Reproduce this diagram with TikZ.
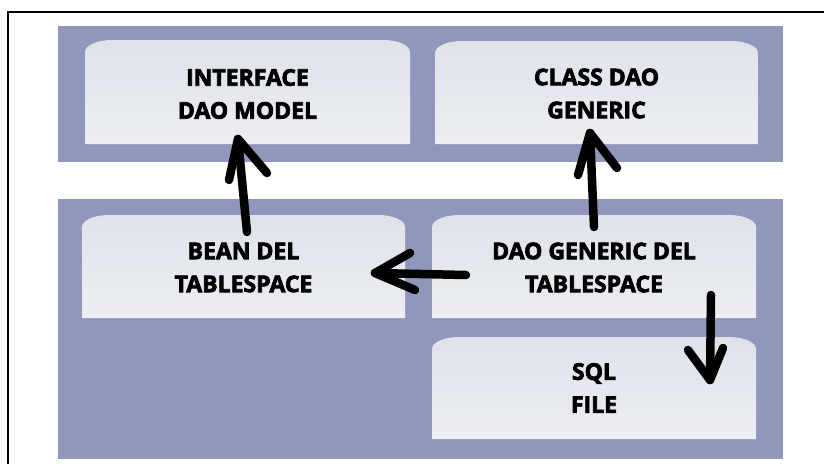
\documentclass[tikz,border=0pt]{standalone}
\usepackage{fontspec}
\setmainfont{Open Sans}[BoldFeatures={FakeBold=3.2}]
\usetikzlibrary{calc}
\definecolor{bandc}{RGB}{145,150,189}
\definecolor{tabtop}{RGB}{223,226,234}
\definecolor{tabmid}{RGB}{234,236,241}
\definecolor{tabbot}{RGB}{236,238,242}
\tikzset{
  band/.style={fill=bandc},
  tabfill/.style={top color=tabtop, middle color=tabmid, bottom color=tabbot},
  tablabel/.style={inner sep=0pt, align=center, font=\fontsize{23}{33}\selectfont\bfseries, text=black},
  stroke/.style={line width=8.5pt, line cap=round, line join=round, black},
  frame/.style={line width=2pt, black}
}
% #1 name, (#2,#3) top-left, (#4,#5) bottom-right, #6 text, #7 vertical text shift
\newcommand\tabbox[7]{%
  \path[tabfill] (#2,#5) -- (#2,{#3+12})
    arc[start angle=180, end angle=90, x radius=27pt, y radius=12pt]
    -- ({#4-27},#3)
    arc[start angle=90, end angle=0, x radius=27pt, y radius=12pt]
    -- (#4,#5) -- cycle;
  \node[tablabel, minimum width={(#4-#2)*1pt}, minimum height={(#5-#3)*1pt}]
    (#1) at ({(#2+#4)/2},{(#3+#5)/2+#7}) {#6};%
}
\begin{document}
\begin{tikzpicture}[x=1pt,y=-1pt]
  \useasboundingbox (0,0) rectangle (824,463);
  \fill[white] (0,0) rectangle (824,463);
  % frame (only top and left edges are inside the page)
  \draw[frame] (7.5,470) -- (7.5,11.5) -- (830,11.5);
  % the two bands
  \fill[band] (58,26) rectangle (783,162);
  \fill[band] (58,199) rectangle (783,459);
  % boxes
  \tabbox{iface}{85}{40}{410}{144}{INTERFACE\\DAO MODEL}{2}
  \tabbox{cdao}{435}{41}{758}{144}{CLASS DAO\\GENERIC}{1}
  \tabbox{bean}{82}{215}{405}{318}{BEAN DEL\\TABLESPACE}{1}
  \tabbox{dgen}{432}{215}{756}{318}{DAO GENERIC DEL\\TABLESPACE}{1}
  \tabbox{sql}{432}{337}{756}{439}{SQL\\FILE}{0}
  % arrow ends
  \coordinate (beanOut) at (247,232);
  \coordinate (ifaceIn) at (238,139);
  \coordinate (dgenUp) at (594,227);
  \coordinate (cdaoIn) at (590,133);
  \coordinate (dgenLeft) at (466,275);
  \coordinate (beanIn) at (375,273);
  \coordinate (dgenDown) at (711,295);
  \coordinate (sqlIn) at (710,380);
  % bean -> interface
  \draw[stroke] (beanOut) -- (ifaceIn);
  \draw[stroke] ($(ifaceIn)+(-9,41)$) -- (ifaceIn) -- ($(ifaceIn)+(29,34)$);
  % dao generic -> class dao
  \draw[stroke] (dgenUp) -- (cdaoIn);
  \draw[stroke] ($(cdaoIn)+(-12,42)$) -- (cdaoIn) -- ($(cdaoIn)+(27,35)$);
  % dao generic -> bean
  \draw[stroke] (dgenLeft) -- (beanIn);
  \draw[stroke] ($(beanIn)+(35,-20)$) -- (beanIn) -- ($(beanIn)+(40,17)$);
  % dao generic -> sql
  \draw[stroke] (dgenDown) -- (sqlIn);
  \draw[stroke] ($(sqlIn)+(-22,-30)$) -- (sqlIn) -- ($(sqlIn)+(13,-32)$);
\end{tikzpicture}
\end{document}
